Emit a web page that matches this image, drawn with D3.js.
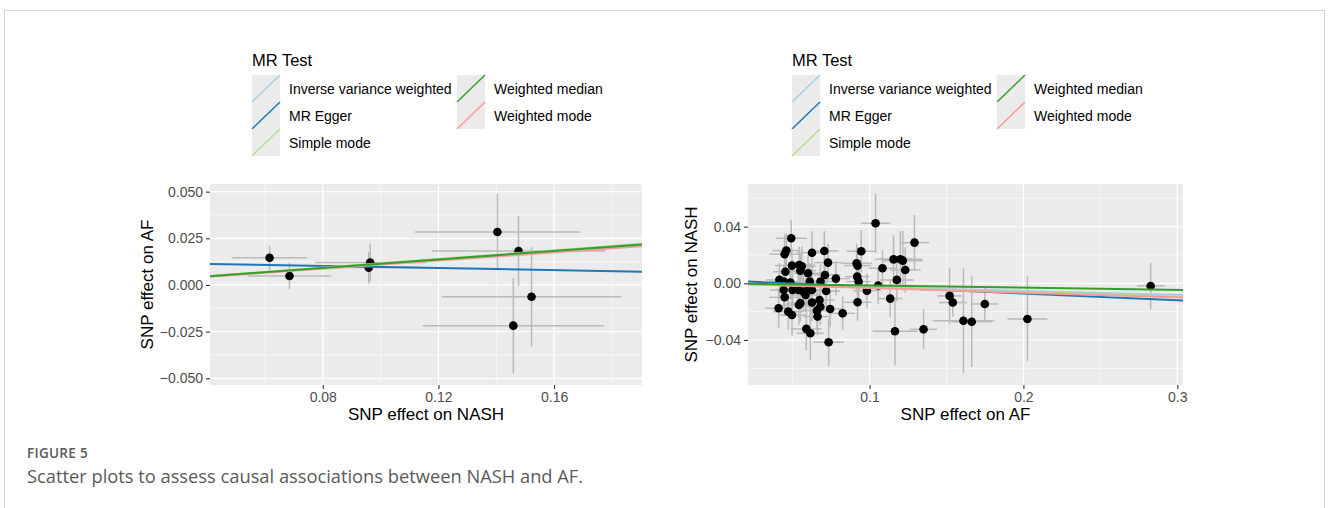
<!DOCTYPE html>
<html>
<head>
<meta charset="utf-8">
<script src="https://cdn.jsdelivr.net/npm/d3@7"></script>
<style>
  body { margin: 0; background: #fff; }
  svg text { font-family: "Liberation Sans", Arial, sans-serif; }
</style>
</head>
<body>
<svg id="fig" width="1328" height="508"></svg>
<script>
// MR methods + colours (ggplot mr_scatter_plot palette)
var mrMethods = ["Inverse variance weighted", "MR Egger", "Simple mode", "Weighted median", "Weighted mode"];
var mrColors = ["#a6cee3", "#1f78b4", "#b2df8a", "#33a02c", "#fb9a99"];
var drawOrder = [1, 0, 2, 4, 3];

// left panel: NASH -> AF
var nashBeta = [0.0616, 0.0685, 0.0964, 0.0959, 0.1404, 0.1477, 0.1522, 0.1459];
var afBeta   = [0.0146, 0.0048, 0.0120, 0.0093, 0.0284, 0.0182, -0.0063, -0.0218];
var nashSe   = [0.0130, 0.0145, 0.0190, 0.0180, 0.0285, 0.0300, 0.0310, 0.0313];
var afSe     = [0.0065, 0.0072, 0.0102, 0.0085, 0.0205, 0.0188, 0.0265, 0.0255];
var leftSlopes     = [0.113, -0.0276, 0.116, 0.114, 0.109];
var leftIntercepts = [0, 0.0124, 0, 0, 0];
var leftXTicks = [0.08, 0.12, 0.16];
var leftXMinor = [0.06, 0.10, 0.14, 0.18];
var leftYTicks = [-0.05, -0.025, 0, 0.025, 0.05];
var leftYMinor = [-0.0375, -0.0125, 0.0125, 0.0375];

// right panel: AF -> NASH
var afExp = [0.1039, 0.1292, 0.0946, 0.1156, 0.1200, 0.1216, 0.1232, 0.1084, 0.1177, 0.1056,
  0.0983, 0.0916, 0.0922, 0.0920, 0.0929, 0.0922, 0.1134, 0.1165, 0.1351, 0.1520,
  0.1541, 0.1610, 0.1664, 0.1749, 0.2026, 0.2827,
  0.0491, 0.0459, 0.0448, 0.0626, 0.0706, 0.0730, 0.0496, 0.0543, 0.0560, 0.0550,
  0.0600, 0.0453, 0.0414, 0.0442, 0.0485, 0.0612, 0.0681, 0.0710, 0.0781, 0.0442,
  0.0448, 0.0500, 0.0537, 0.0570, 0.0602, 0.0626, 0.0584, 0.0541, 0.0550, 0.0409,
  0.0472, 0.0496, 0.0626, 0.0675, 0.0680, 0.0658, 0.0662, 0.0718, 0.0744, 0.0825,
  0.0589, 0.0615, 0.0734];
var nashOut = [0.0424, 0.0287, 0.0226, 0.0169, 0.0170, 0.0160, 0.0094, 0.0106, 0.0024, -0.0016,
  -0.0052, 0.0141, 0.0125, 0.0047, 0.0012, -0.0134, -0.0108, -0.0339, -0.0325, -0.0089,
  -0.0136, -0.0264, -0.0271, -0.0146, -0.0252, -0.0019,
  0.0318, 0.0231, 0.0205, 0.0216, 0.0228, 0.0146, 0.0125, 0.0129, 0.0120, 0.0089,
  0.0071, 0.0082, 0.0024, 0.0012, 0.0005, 0.0012, 0.0012, 0.0059, 0.0033, -0.0047,
  -0.0099, -0.0047, -0.0047, -0.0059, -0.0047, -0.0047, -0.0082, -0.0153, -0.0140, -0.0176,
  -0.0200, -0.0224, -0.0136, -0.0118, -0.0165, -0.0193, -0.0235, -0.0054, -0.0181, -0.0212,
  -0.0322, -0.0353, -0.0416];
var afExpSe = [0.0095, 0.0095, 0.0097, 0.0120, 0.0140, 0.0130, 0.0100, 0.0090, 0.0110, 0.0100,
  0.0090, 0.0100, 0.0090, 0.0080, 0.0080, 0.0090, 0.0080, 0.0145, 0.0090, 0.0080,
  0.0090, 0.0200, 0.0130, 0.0090, 0.0130, 0.0090,
  0.0100, 0.0090, 0.0100, 0.0100, 0.0090, 0.0090, 0.0110, 0.0100, 0.0090, 0.0100,
  0.0090, 0.0080, 0.0090, 0.0090, 0.0100, 0.0090, 0.0090, 0.0100, 0.0090, 0.0090,
  0.0100, 0.0110, 0.0100, 0.0090, 0.0090, 0.0100, 0.0090, 0.0100, 0.0090, 0.0090,
  0.0100, 0.0090, 0.0090, 0.0100, 0.0090, 0.0100, 0.0090, 0.0090, 0.0090, 0.0080,
  0.0100, 0.0090, 0.0100];
var nashOutSe = [0.0210, 0.0195, 0.0150, 0.0170, 0.0200, 0.0210, 0.0160, 0.0130, 0.0150, 0.0130,
  0.0120, 0.0140, 0.0130, 0.0120, 0.0120, 0.0130, 0.0130, 0.0240, 0.0140, 0.0200,
  0.0100, 0.0370, 0.0320, 0.0120, 0.0300, 0.0165,
  0.0130, 0.0120, 0.0140, 0.0150, 0.0140, 0.0130, 0.0120, 0.0130, 0.0140, 0.0120,
  0.0130, 0.0130, 0.0120, 0.0110, 0.0120, 0.0130, 0.0120, 0.0130, 0.0120, 0.0120,
  0.0130, 0.0120, 0.0140, 0.0130, 0.0120, 0.0130, 0.0120, 0.0140, 0.0130, 0.0140,
  0.0130, 0.0150, 0.0130, 0.0140, 0.0130, 0.0140, 0.0130, 0.0120, 0.0130, 0.0120,
  0.0150, 0.0190, 0.0170];
var rightSlopes     = [-0.027, -0.0474, -0.031, -0.0155, -0.0333];
var rightIntercepts = [0, 0.0022, 0, 0, 0];
var rightXTicks = [0.1, 0.2, 0.3];
var rightXMinor = [0.05, 0.15, 0.25];
var rightYTicks = [-0.04, 0, 0.04];
var rightYMinor = [-0.06, -0.02, 0.02, 0.06];

var svg = d3.select("#fig");

// figure frame
svg.append("rect")
  .attr("x", 4.5).attr("y", 10.5).attr("width", 1320).attr("height", 520)
  .attr("fill", "none").attr("stroke", "#d4d4d4");

function fmt(d, digits) {
  var s = d3.format("." + digits + "f")(Math.abs(d));
  return (d < 0 ? "\u2212" : "") + s;
}

function drawPanel(p) {
  var x = d3.scaleLinear().domain(p.xDomain).range([p.left, p.right]);
  var y = d3.scaleLinear().domain(p.yDomain).range([p.bottom, p.top]);
  var g = svg.append("g");

  g.append("rect")
    .attr("x", p.left).attr("y", p.top)
    .attr("width", p.right - p.left).attr("height", p.bottom - p.top)
    .attr("fill", "#ebebeb");

  // grid
  g.selectAll(".gxm").data(p.xMinor).enter().append("line")
    .attr("x1", function(d){ return x(d); }).attr("x2", function(d){ return x(d); })
    .attr("y1", p.top).attr("y2", p.bottom)
    .attr("stroke", "#fff").attr("stroke-width", 0.6);
  g.selectAll(".gym").data(p.yMinor).enter().append("line")
    .attr("y1", function(d){ return y(d); }).attr("y2", function(d){ return y(d); })
    .attr("x1", p.left).attr("x2", p.right)
    .attr("stroke", "#fff").attr("stroke-width", 0.6);
  g.selectAll(".gx").data(p.xTicks).enter().append("line")
    .attr("x1", function(d){ return x(d); }).attr("x2", function(d){ return x(d); })
    .attr("y1", p.top).attr("y2", p.bottom)
    .attr("stroke", "#fff").attr("stroke-width", 1.3);
  g.selectAll(".gy").data(p.yTicks).enter().append("line")
    .attr("y1", function(d){ return y(d); }).attr("y2", function(d){ return y(d); })
    .attr("x1", p.left).attr("x2", p.right)
    .attr("stroke", "#fff").attr("stroke-width", 1.3);

  var clipId = "clip" + p.left;
  svg.append("clipPath").attr("id", clipId).append("rect")
    .attr("x", p.left).attr("y", p.top)
    .attr("width", p.right - p.left).attr("height", p.bottom - p.top);
  var inner = g.append("g").attr("clip-path", "url(#" + clipId + ")");

  var idx = d3.range(p.xs.length);
  // error bars
  inner.selectAll(".ev").data(idx).enter().append("line")
    .attr("x1", function(i){ return x(p.xs[i]); }).attr("x2", function(i){ return x(p.xs[i]); })
    .attr("y1", function(i){ return y(p.ys[i] - p.yse[i]); })
    .attr("y2", function(i){ return y(p.ys[i] + p.yse[i]); })
    .attr("stroke", "#bababa").attr("stroke-width", 1.5);
  inner.selectAll(".eh").data(idx).enter().append("line")
    .attr("y1", function(i){ return y(p.ys[i]); }).attr("y2", function(i){ return y(p.ys[i]); })
    .attr("x1", function(i){ return x(p.xs[i] - p.xse[i]); })
    .attr("x2", function(i){ return x(p.xs[i] + p.xse[i]); })
    .attr("stroke", "#bababa").attr("stroke-width", 1.5);
  inner.selectAll(".pt").data(idx).enter().append("circle")
    .attr("cx", function(i){ return x(p.xs[i]); })
    .attr("cy", function(i){ return y(p.ys[i]); })
    .attr("r", 4.3).attr("fill", "#000");

  // regression lines
  drawOrder.forEach(function(m){
    var x0 = p.xDomain[0], x1 = p.xDomain[1];
    inner.append("line")
      .attr("x1", x(x0)).attr("y1", y(p.intercepts[m] + p.slopes[m] * x0))
      .attr("x2", x(x1)).attr("y2", y(p.intercepts[m] + p.slopes[m] * x1))
      .attr("stroke", mrColors[m]).attr("stroke-width", 2);
  });

  // axes
  var xa = g.append("g").attr("transform", "translate(0," + p.bottom + ")")
    .call(d3.axisBottom(x).tickValues(p.xTicks).tickSize(4).tickPadding(3)
      .tickFormat(function(d){ return fmt(d, p.xDigits); }));
  var ya = g.append("g").attr("transform", "translate(" + p.left + ",0)")
    .call(d3.axisLeft(y).tickValues(p.yTicks).tickSize(4).tickPadding(3)
      .tickFormat(function(d){ return fmt(d, p.yDigits); }));
  [xa, ya].forEach(function(a){
    a.select(".domain").remove();
    a.selectAll(".tick line").attr("stroke", "#333").attr("stroke-width", 1.1);
    a.selectAll(".tick text").attr("fill", "#4d4d4d")
      .style("font-size", "14px").style("font-family", "Liberation Sans, Arial, sans-serif");
  });

  g.append("text")
    .attr("x", (p.left + p.right) / 2).attr("y", p.bottom + 35)
    .attr("text-anchor", "middle").style("font-size", "17px").attr("fill", "#000")
    .text(p.xTitle);
  g.append("text")
    .attr("transform", "translate(" + p.yTitleX + "," + (p.top + p.bottom) / 2 + ") rotate(-90)")
    .attr("text-anchor", "middle").style("font-size", "17px").attr("fill", "#000")
    .text(p.yTitle);
}

function drawLegend(lx, ly) {
  var g = svg.append("g");
  g.append("text").attr("x", lx).attr("y", ly).style("font-size", "16.5px").text("MR Test");
  var keyW = 28, keyH = 27, top0 = ly + 9;
  var colX = [lx, lx + 205];
  mrMethods.forEach(function(name, i){
    var col = i < 3 ? 0 : 1, row = i < 3 ? i : i - 3;
    var kx = colX[col], ky = top0 + row * keyH;
    g.append("rect").attr("x", kx).attr("y", ky).attr("width", keyW).attr("height", keyH)
      .attr("fill", "#ebebeb");
    g.append("line").attr("x1", kx).attr("y1", ky + keyH).attr("x2", kx + keyW).attr("y2", ky)
      .attr("stroke", mrColors[i]).attr("stroke-width", 1.5);
    g.append("text").attr("x", kx + keyW + 9).attr("y", ky + keyH / 2 + 5)
      .style("font-size", "14px").text(name);
  });
}

drawLegend(252, 66);
drawLegend(792, 66);

drawPanel({
  left: 210, right: 642, top: 184, bottom: 385,
  xDomain: [0.041, 0.1904], yDomain: [-0.0536, 0.0541],
  xs: nashBeta, ys: afBeta, xse: nashSe, yse: afSe,
  slopes: leftSlopes, intercepts: leftIntercepts,
  xTicks: leftXTicks, xMinor: leftXMinor, yTicks: leftYTicks, yMinor: leftYMinor,
  xDigits: 2, yDigits: 3,
  xTitle: "SNP effect on NASH", yTitle: "SNP effect on AF", yTitleX: 153
});

drawPanel({
  left: 748, right: 1183, top: 184, bottom: 385,
  xDomain: [0.021, 0.3037], yDomain: [-0.0718, 0.0701],
  xs: afExp, ys: nashOut, xse: afExpSe, yse: nashOutSe,
  slopes: rightSlopes, intercepts: rightIntercepts,
  xTicks: rightXTicks, xMinor: rightXMinor, yTicks: rightYTicks, yMinor: rightYMinor,
  xDigits: 1, yDigits: 2,
  xTitle: "SNP effect on AF", yTitle: "SNP effect on NASH", yTitleX: 697
});

// caption
svg.append("text").attr("x", 27).attr("y", 458)
  .style("font-family", "'Open Sans', sans-serif").style("font-size", "13.5px")
  .style("font-weight", "600").style("letter-spacing", "0.3px")
  .attr("fill", "#5a5a5a").text("FIGURE 5");
svg.append("text").attr("x", 27).attr("y", 483)
  .style("font-family", "'Open Sans', sans-serif").style("font-size", "18.3px")
  .attr("fill", "#5a5a5a").text("Scatter plots to assess causal associations between NASH and AF.");
</script>
</body>
</html>
